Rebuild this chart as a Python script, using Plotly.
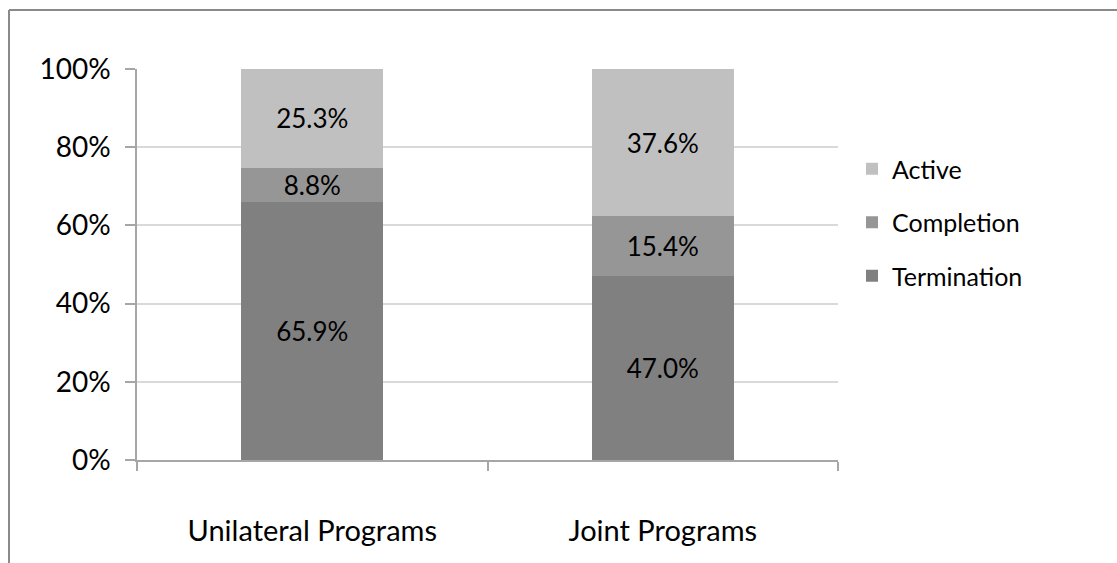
import plotly.graph_objects as go

categories = ["Unilateral Programs", "Joint Programs"]
series_names = ["Termination", "Completion", "Active"]
termination = [65.9, 47.0]
completion = [8.8, 15.4]
active = [25.3, 37.6]
colors = ["#808080", "#969696", "#c0c0c0"]
legend_ranks = [3, 2, 1]

FONT = "Lato, 'Open Sans', sans-serif"

fig = go.Figure()
for i, (name, vals) in enumerate(zip(series_names, [termination, completion, active])):
    fig.add_trace(go.Bar(
        name=name,
        x=categories,
        y=[v / 100 for v in vals],
        marker=dict(color=colors[i], line=dict(width=0)),
        text=[f"{v:.1f}%" for v in vals],
        textposition="inside",
        insidetextanchor="middle",
        textfont=dict(size=26, color="#000000", family=FONT),
        legendgroup=name,
        legendrank=legend_ranks[i],
        hoverinfo="skip",
    ))

L, R, T, B = 137, 838, 69, 460
W, H = 1117, 563
pw, ph = R - L, B - T

def px_x(x):
    return (x - L) / pw

def px_y(y):
    return (B - y) / ph

fig.update_layout(
    width=W, height=H,
    margin=dict(l=L, r=W - R, t=T, b=H - B, pad=0),
    paper_bgcolor="white", plot_bgcolor="white",
    barmode="stack",
    bargap=0.595,
    font=dict(family=FONT, color="#000000"),
    uniformtext=dict(minsize=26, mode="show"),
    showlegend=True,
    legend=dict(
        traceorder="grouped",
        tracegroupgap=18,
        x=px_x(852), xanchor="left",
        y=px_y(146), yanchor="top",
        font=dict(size=25, family=FONT, color="#000000"),
        itemwidth=30,
        bgcolor="rgba(0,0,0,0)",
    ),
    xaxis=dict(
        showline=True, linecolor="#a6a6a6", linewidth=1.5,
        ticks="outside", tickson="boundaries", ticklen=9,
        tickcolor="#a6a6a6", tickwidth=1.5,
        tickfont=dict(size=29, family=FONT, color="#000000"),
        ticklabelstandoff=44,
        showgrid=False,
    ),
    yaxis=dict(
        range=[0, 1], dtick=0.2, tickformat=".0%",
        showline=True, linecolor="#a6a6a6", linewidth=1.5,
        ticks="outside", ticklen=10, tickcolor="#a6a6a6", tickwidth=1.5,
        tickfont=dict(size=28, family=FONT, color="#000000"),
        showgrid=True, gridcolor="#d9d9d9", gridwidth=1.5,
        zeroline=False,
        ticklabelstandoff=9,
    ),
    shapes=[
        dict(type="line", xref="paper", yref="paper",
             x0=px_x(9), x1=px_x(W + 5), y0=px_y(10), y1=px_y(10),
             line=dict(color="#8a8a8a", width=2)),
        dict(type="line", xref="paper", yref="paper",
             x0=px_x(9), x1=px_x(9), y0=px_y(10), y1=px_y(H + 5),
             line=dict(color="#8a8a8a", width=2)),
    ],
)

fig.write_html("out.html")
